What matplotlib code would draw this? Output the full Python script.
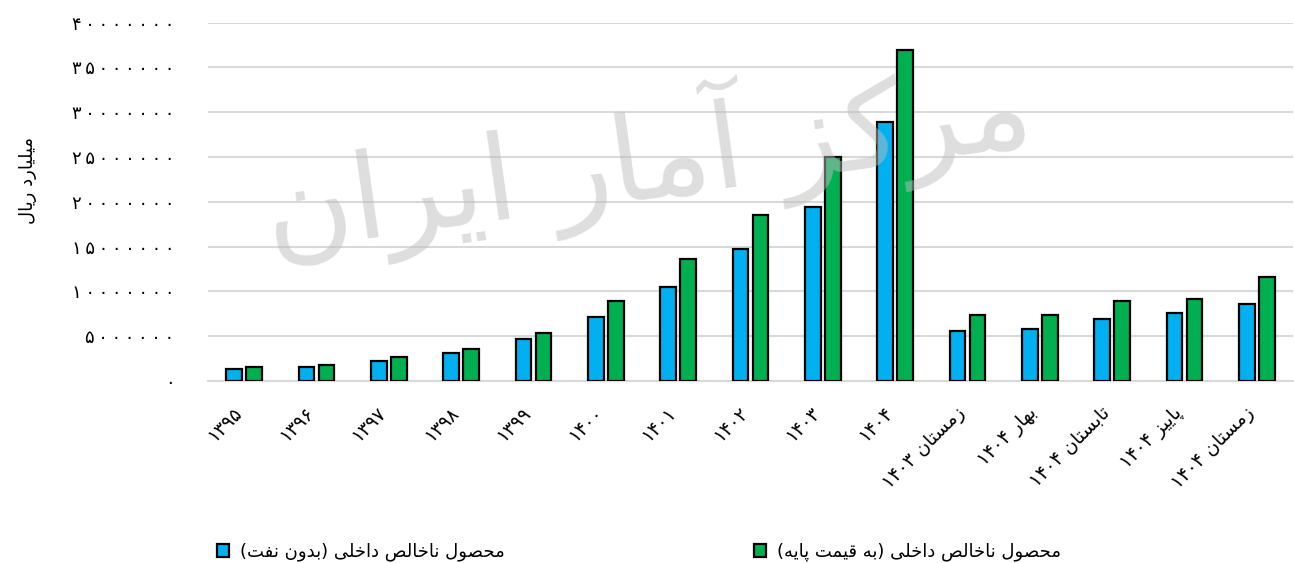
import re
import numpy as np
import matplotlib
matplotlib.use('Agg')
import matplotlib.pyplot as plt
import matplotlib.transforms as mtransforms
from matplotlib.patches import Patch

categories = ['1395', '1396', '1397', '1398', '1399', '1400', '1401', '1402', '1403', '1404',
              'زمستان 1403', 'بهار 1404', 'تابستان 1404', 'پاییز 1404', 'زمستان 1404']
gdp_no_oil = [1390000, 1560000, 2230000, 3130000, 4690000, 7150000, 10500000, 14750000,
              19440000, 28880000, 5590000, 5810000, 6930000, 7600000, 8550000]
gdp_base = [1560000, 1790000, 2680000, 3580000, 5360000, 8940000, 13600000, 18550000,
            25030000, 36950000, 7370000, 7370000, 8940000, 9200000, 11570000]
series_names = ['محصول ناخالص داخلی (بدون نفت)', 'محصول ناخالص داخلی (به قیمت پایه)']
y_label = 'میلیارد ریال'
watermark = 'مرکز آمار ایران'
y_ticks = [0, 5000000, 10000000, 15000000, 20000000, 25000000, 30000000, 35000000, 40000000]

# matplotlib has no arabic shaping, so do it by hand with presentation forms
FORMS = {
    'ا': ('\uFE8D', '\uFE8E', None, None),
    'آ': ('\uFE81', '\uFE82', None, None),
    'ب': ('\uFE8F', '\uFE90', '\uFE91', '\uFE92'),
    'پ': ('\uFB56', '\uFB57', '\uFB58', '\uFB59'),
    'ت': ('\uFE95', '\uFE96', '\uFE97', '\uFE98'),
    'ح': ('\uFEA1', '\uFEA2', '\uFEA3', '\uFEA4'),
    'خ': ('\uFEA5', '\uFEA6', '\uFEA7', '\uFEA8'),
    'د': ('\uFEA9', '\uFEAA', None, None),
    'ر': ('\uFEAD', '\uFEAE', None, None),
    'ز': ('\uFEAF', '\uFEB0', None, None),
    'س': ('\uFEB1', '\uFEB2', '\uFEB3', '\uFEB4'),
    'ص': ('\uFEB9', '\uFEBA', '\uFEBB', '\uFEBC'),
    'ف': ('\uFED1', '\uFED2', '\uFED3', '\uFED4'),
    'ق': ('\uFED5', '\uFED6', '\uFED7', '\uFED8'),
    'ک': ('\uFB8E', '\uFB8F', '\uFB90', '\uFB91'),
    'ل': ('\uFEDD', '\uFEDE', '\uFEDF', '\uFEE0'),
    'م': ('\uFEE1', '\uFEE2', '\uFEE3', '\uFEE4'),
    'ن': ('\uFEE5', '\uFEE6', '\uFEE7', '\uFEE8'),
    'ه': ('\uFEE9', '\uFEEA', '\uFEEB', '\uFEEC'),
    'و': ('\uFEED', '\uFEEE', None, None),
    'ی': ('\uFBFC', '\uFBFD', '\uFBFE', '\uFBFF'),
}
FA_DIGITS = str.maketrans('0123456789', '۰۱۲۳۴۵۶۷۸۹')


def shape(s):
    out = []
    for i, c in enumerate(s):
        if c not in FORMS:
            out.append(c)
            continue
        iso, fin, ini, med = FORMS[c]
        prev = s[i - 1] if i > 0 else None
        nxt = s[i + 1] if i + 1 < len(s) else None
        jp = prev in FORMS and FORMS[prev][2] is not None
        jn = ini is not None and nxt in FORMS
        if jp and jn:
            out.append(med)
        elif jp:
            out.append(fin)
        elif jn:
            out.append(ini)
        else:
            out.append(iso)
    return ''.join(out)


def fa(s):
    s = shape(s.translate(FA_DIGITS))
    tokens = re.findall(r'[\u06F0-\u06F9]+|.', s)
    swap = {'(': ')', ')': '('}
    return ''.join(swap.get(t, t) for t in reversed(tokens))


def fa_num(v):
    return '\u2009'.join(str(v).translate(FA_DIGITS))


plt.rcParams['font.family'] = ['DejaVu Sans']

fig = plt.figure(figsize=(12.94, 5.63), dpi=100)
ax = fig.add_axes([0.1607, 0.3233, 0.8385, 0.6364])

x = np.arange(len(categories))
w = 0.215
ax.bar(x - 0.138, gdp_no_oil, w, color='#00b0f0', edgecolor='black', linewidth=1.6, zorder=3)
ax.bar(x + 0.138, gdp_base, w, color='#00b050', edgecolor='black', linewidth=1.6, zorder=3)

ax.set_xlim(-0.5, len(categories) - 0.5)
ax.set_ylim(0, 40000000)
ax.tick_params(axis='both', length=0)
ax.tick_params(axis='x', pad=16)
ax.tick_params(axis='y', pad=24)
ax.set_yticks(y_ticks)
ax.set_yticklabels([fa_num(v) for v in y_ticks], fontsize=13)
ax.set_xticks(x)
ax.set_xticklabels([fa(c) for c in categories], rotation=45, ha='right', va='top',
                   rotation_mode='anchor', fontsize=13.5)
shift = mtransforms.ScaledTranslation(-12 / 100, 0, fig.dpi_scale_trans)
for lab in ax.get_xticklabels():
    lab.set_transform(lab.get_transform() + shift)
ax.grid(axis='y', color='#d9d9d9', linewidth=1.5, zorder=0)
for sp in ['top', 'right', 'left']:
    ax.spines[sp].set_visible(False)
ax.spines['bottom'].set_color('#d9d9d9')
ax.spines['bottom'].set_linewidth(1.5)

fig.text(0.022, 0.68, fa(y_label), rotation=90, ha='center', va='center', fontsize=13)

# watermark
fig.text(0.5, 0.72, fa(watermark), fontsize=86, color='#bdbdbd', alpha=0.5,
         ha='center', va='center', rotation=8, zorder=5)

colors = ['#00b0f0', '#00b050']
starts = [217 / 1294, 754 / 1294]
for name, col, x0 in zip(series_names, colors, starts):
    h = Patch(facecolor=col, edgecolor='black', linewidth=1.6)
    fig.legend([h], [fa(name)], loc='center left', bbox_to_anchor=(x0, 0.0195),
               frameon=False, fontsize=13, borderpad=0, borderaxespad=0,
               handlelength=0.65, handleheight=0.8, handletextpad=0.6)

fig.savefig('out.png', dpi=100)
